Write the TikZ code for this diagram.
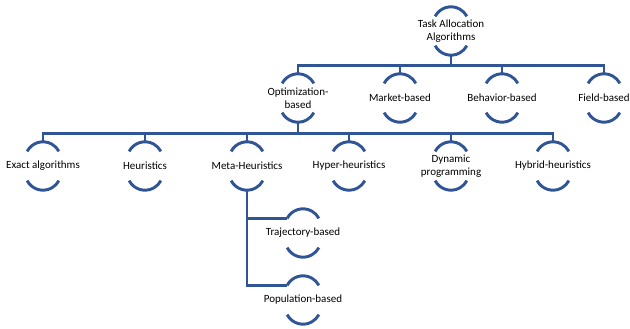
\documentclass[tikz,border=0pt]{standalone}
\usepackage{fontspec}
\setmainfont{Carlito}
\usetikzlibrary{calc}
\definecolor{arcblue}{RGB}{47,85,151}

\begin{document}
\begin{tikzpicture}[x=1pt, y=1pt, every node/.style={anchor=center},
    box/.style={minimum height=48pt, inner sep=0pt, align=center, font=\fontsize{11}{13.5}\selectfont},
    link/.style={arcblue, line width=2.9pt},
    arcline/.style={arcblue, line width=2.9pt}]
    \useasboundingbox (0,0) rectangle (630,-329);
    % Arrel
    \node[box] (root) at (451,-31) {Task Allocation\\Algorithms};
    % Primer nivell
    \node[box] (opt)      at (298,-98) {Optimization-\\based};
    \node[box] (market)   at (400,-98) {Market-based};
    \node[box] (behavior) at (502,-98) {Behavior-based};
    \node[box] (field)    at (604,-98) {Field-based};
    % Segon nivell (sota Optimization-based)
    \node[box] (exact)   at (43,-166)  {Exact algorithms};
    \node[box] (heur)    at (145,-166) {Heuristics};
    \node[box] (meta)    at (247,-166) {Meta-Heuristics};
    \node[box] (hyper)   at (349,-166) {Hyper-heuristics};
    \node[box] (dynamic) at (451,-166) {Dynamic\\programming};
    \node[box] (hybrid)  at (553,-166) {Hybrid-heuristics};
    % Tercer nivell (sota Meta-Heuristics)
    \node[box] (traj) at (303,-233) {Trajectory-based};
    \node[box] (pop)  at (303,-300) {Population-based};
    % Arcs de dalt i de baix de cada node
    \foreach \n in {root,opt,market,behavior,field,exact,heur,meta,hyper,dynamic,hybrid,traj,pop} {
        \draw[arcline] ([yshift=-18pt]\n.north) ++(152:18pt) coordinate (\n-l)
            arc[start angle=152, end angle=28, radius=18pt];
        \draw[arcline] ([yshift=18pt]\n.south) ++(208:18pt)
            arc[start angle=208, end angle=332, radius=18pt];
    }
    % Connectors
    \foreach \c in {opt,market,behavior,field}
        \draw[link] (root.south) -- ++(0,-10) -| (\c.north);
    \foreach \c in {exact,heur,meta,hyper,dynamic,hybrid}
        \draw[link] (opt.south) -- ++(0,-11) -| (\c.north);
    \foreach \c in {traj,pop}
        \draw[link] (meta.south) |- (\c-l); % branca lateral
\end{tikzpicture}
\end{document}
